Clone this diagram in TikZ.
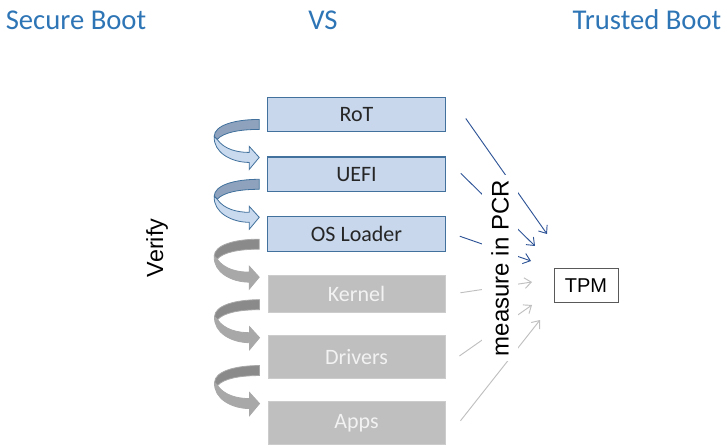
\documentclass[tikz,border=0pt]{standalone}
\usepackage{fontspec}
\setmainfont{Carlito}
\newfontfamily\arialfont{Liberation Sans}
\usetikzlibrary{positioning, calc, arrows.meta}

\definecolor{headblue}{HTML}{2E75B6}
\definecolor{boxblue}{HTML}{C8D7EC}
\definecolor{lineblue}{HTML}{41719C}
\definecolor{measureblue}{HTML}{2F5597}
\definecolor{boxgray}{HTML}{BFBFBF}
\definecolor{bluelight}{HTML}{C9D9EE}
\definecolor{bluedark}{HTML}{8EA2BD}
\definecolor{graylight}{HTML}{A8A8A8}
\definecolor{graydark}{HTML}{8A8A8A}

\tikzstyle{title} = [text=headblue, font=\fontsize{21.5}{24}\selectfont]
\tikzstyle{stage} = [rectangle, minimum width=133pt, minimum height=26pt, text centered, draw=lineblue, line width=0.9pt, fill=boxblue, text=black!85, font=\fontsize{16.5}{18}\selectfont]
\tikzstyle{later} = [rectangle, minimum width=133pt, minimum height=32pt, text centered, draw=black!20, fill=boxgray, text=black!5, font=\fontsize{16.5}{18}\selectfont]
\tikzstyle{measure} = [-{Straight Barb[length=5pt, width=8pt]}, measureblue, line width=0.7pt]
\tikzstyle{measuregray} = [-{Straight Barb[length=5pt, width=8pt]}, black!25, line width=0.7pt]

\begin{document}
\begin{tikzpicture}[x=0.75pt, y=-0.75pt]
\useasboundingbox (0,0) rectangle (727,448);

% Titles
\node (secure) [title] at (76,20) {Secure Boot};
\node (vs) [title] at (323,20) {VS};
\node (trusted) [title] at (647,20) {Trusted Boot};

% Boot chain
\node (rot) [stage] at (356.5,114.5) {RoT};
\node (uefi) [stage, below=18pt of rot] {UEFI};
\node (osloader) [stage, below=18pt of uefi] {OS Loader};
\node (kernel) [later, minimum height=28pt, below=17pt of osloader] {Kernel};
\node (drivers) [later, below=17pt of kernel] {Drivers};
\node (apps) [later, below=17pt of drivers] {Apps};

% Verify arrows
\foreach \stagename/\light/\dark/\edge in {rot/bluelight/bluedark/lineblue, uefi/bluelight/bluedark/lineblue, osloader/graylight/graydark/graylight, kernel/graylight/graydark/graylight, drivers/graylight/graydark/graylight} {
  \begin{scope}[shift={($(\stagename.south west)+(-8,-13)$)}]
    \filldraw [fill=\dark, draw=\edge, line width=0.6pt] (0,0) .. controls (-25,0) and (-45,6) .. (-45,17) -- (-42,20) .. controls (-36,13) and (-20,10) .. (0,10) -- cycle;
    \filldraw [fill=\light, draw=\edge, line width=0.6pt] (-42,20) .. controls (-35,30) and (-22,33) .. (-10,33) -- (-10,27) -- (0,38) -- (-10,50) -- (-10,43) .. controls (-28,43) and (-46,33) .. (-45,17) -- cycle;
  \end{scope}
}

\node (verify) [rotate=90, font=\arialfont\fontsize{17.5}{20}\selectfont] at (157,248) {Verify};

% TPM
\node (tpm) [rectangle, draw=black!65, line width=0.7pt, minimum width=48pt, minimum height=26pt, font=\arialfont\fontsize{15}{17}\selectfont] at (586,285.5) {TPM};

% Measure arrows
\coordinate (t1) at (547,234);
\coordinate (t2) at (535,246);
\coordinate (t3) at (531,261);
\coordinate (t4) at (532,282);
\coordinate (t5) at (532,305);
\coordinate (t6) at (540,320);
\draw [measure] ([shift={(20,4)}]rot.east) -- (t1);
\draw [measure] ([shift={(15,-1)}]uefi.east) -- (t2);
\draw [measure] ([shift={(14,2)}]osloader.east) -- (t3);
\draw [measuregray] ([shift={(15,-1)}]kernel.east) -- (t4);
\draw [measuregray] ([shift={(14,-1)}]drivers.east) -- (t5);
\draw [measuregray] ([shift={(15,-2)}]apps.east) -- (t6);

\node (pcr) [rotate=90, fill=white, inner xsep=4pt, inner ysep=7pt, font=\arialfont\fontsize{18}{20}\selectfont] at (500,268) {measure in PCR};

\end{tikzpicture}
\end{document}
